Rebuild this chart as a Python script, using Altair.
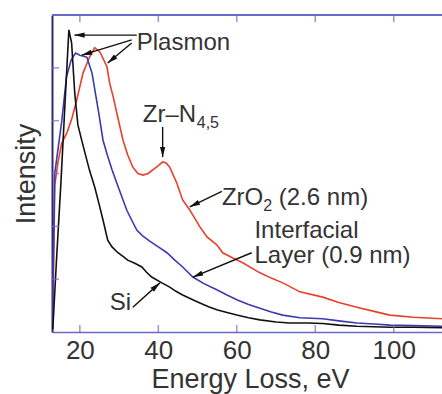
import math
import altair as alt
import pandas as pd

# ---------------- data ----------------
si_x = [13.1, 14.0, 15.2, 16.3, 17.2, 17.9, 18.7, 19.5, 20.4, 21.3, 22.5, 23.8, 24.9, 25.9,
        27.1, 28.2, 29.7, 31.0, 32.2, 34.0, 35.8, 37.0, 38.3, 40.9, 42.9, 44.5, 46.2, 48.5,
        50.6, 52.8, 54.9, 57.5, 60.0, 63.0, 65.9, 70.0, 73.5, 78.0, 81.9, 86.0, 90.6, 95.0,
        99.0, 105.0, 112.3]
si_y = [0.05, 1.3, 2.86, 4.45, 5.72, 5.47, 4.52, 3.92, 3.65, 3.39, 3.05, 2.74, 2.42, 2.12,
        1.74, 1.61, 1.50, 1.43, 1.36, 1.30, 1.23, 1.13, 1.04, 0.93, 0.85, 0.77, 0.70, 0.62,
        0.55, 0.48, 0.42, 0.37, 0.32, 0.27, 0.23, 0.19, 0.17, 0.17, 0.16, 0.13, 0.11, 0.10,
        0.09, 0.09, 0.08]

il_x = [13.0, 13.6, 14.5, 15.4, 16.6, 17.8, 18.9, 20.0, 21.0, 21.8, 23.1, 24.8, 25.9, 27.0,
        28.2, 29.5, 30.7, 32.0, 33.2, 34.5, 36.0, 37.8, 40.0, 42.2, 44.2, 46.2, 48.8, 51.5,
        54.9, 57.5, 60.0, 63.0, 65.9, 68.8, 71.7, 76.1, 81.9, 86.0, 90.6, 95.0, 99.0, 105.0,
        112.3]
il_y = [0.2, 3.0, 3.5, 4.0, 4.83, 5.15, 5.28, 5.24, 5.22, 5.20, 4.90, 4.15, 3.63, 3.35,
        3.07, 2.80, 2.56, 2.30, 2.12, 1.93, 1.82, 1.72, 1.61, 1.50, 1.36, 1.23, 1.04, 0.92,
        0.80, 0.70, 0.61, 0.52, 0.45, 0.38, 0.32, 0.27, 0.25, 0.21, 0.17, 0.15, 0.13, 0.12,
        0.11]

zr_x = [13.1, 13.6, 14.4, 15.4, 16.7, 18.0, 19.2, 20.8, 22.5, 23.8, 25.1, 26.9, 27.6, 28.5,
        29.4, 31.0, 32.2, 33.5, 34.8, 36.1, 37.4, 38.6, 40.0, 41.1, 42.0, 42.9, 44.7, 46.2,
        48.0, 50.6, 52.4, 54.9, 56.4, 59.0, 61.5, 65.9, 68.8, 71.7, 76.1, 81.9, 86.0, 90.6,
        95.0, 99.0, 105.0, 112.3]
zr_y = [0.2, 2.78, 3.20, 3.58, 3.77, 4.05, 4.39, 4.90, 5.21, 5.38, 5.30, 5.02, 4.71, 4.45,
        4.15, 3.63, 3.35, 3.12, 3.00, 2.97, 3.00, 3.07, 3.15, 3.22, 3.20, 3.12, 2.82, 2.50,
        2.31, 1.99, 1.80, 1.65, 1.50, 1.40, 1.31, 1.12, 1.02, 0.93, 0.76, 0.66, 0.56, 0.47,
        0.39, 0.32, 0.28, 0.25]

x_ticks = [20, 40, 60, 80, 100]
y_ticks = [1, 2, 3, 4, 5]

# annotation texts (data coordinates, left-aligned, alphabetic baseline)
ann_text = ["Plasmon", "Zr\u2013N", "4,5", "ZrO", "2", "(2.6 nm)", "Interfacial",
            "Layer (0.9 nm)", "Si"]
ann_x = [34.5, 36.05, 49.8, 56.2, 66.75, 70.7, 64.5, 64.5, 27.6]
ann_y = [5.34, 3.975, 3.86, 2.40, 2.29, 2.40, 1.78, 1.31, 0.42]
ann_fs = [24, 24, 16, 24, 16, 24, 24, 24, 24]

# arrows: tail -> head (data coordinates)
arr_x1 = [34.5, 33.2, 33.2, 41.1, 56.2, 63.8, 33.5]
arr_y1 = [5.62, 5.53, 5.47, 3.88, 2.66, 1.50, 0.47]
arr_x2 = [18.6, 20.5, 27.1, 41.1, 48.0, 48.8, 40.4]
arr_y2 = [5.62, 5.24, 5.09, 3.31, 2.37, 1.04, 0.93]

# ---------------- layout ----------------
X_MIN, X_MAX = 12.9, 112.3
Y_MIN, Y_MAX = 0, 6
W, H = 390, 317
F = "Liberation Sans"
AX = "#6a6ac6"
AXL = "#2c2c70"
TXT = "#333333"

xs = alt.Scale(domain=[X_MIN, X_MAX], nice=False, zero=False)
ys = alt.Scale(domain=[Y_MIN, Y_MAX], nice=False, zero=False)

xaxis = alt.Axis(values=x_ticks, ticks=False, grid=False, domainColor=AX, domainWidth=1.5,
                 labelFontSize=26, labelColor=TXT, labelFont=F, labelPadding=26,
                 labelBaseline="alphabetic", labelOverlap=False, labelFlush=False,
                 title="Energy Loss, eV", titleFont=F, titleFontSize=27, titleColor=TXT,
                 titleFontWeight="normal", titleBaseline="alphabetic", titleY=55,
                 titleX=198, titleAlign="center")
yaxis = alt.Axis(labels=False, ticks=False, grid=False, domainColor=AXL, domainWidth=2,
                 title="Intensity", titleFont=F, titleFontSize=27, titleColor=TXT,
                 titleFontWeight="normal", titleAngle=270, titleBaseline="alphabetic",
                 titleX=-18, titleY=H / 2, titleAlign="center")


def X(f):
    return alt.X(f, type="quantitative", scale=xs, axis=xaxis)


def Y(f):
    return alt.Y(f, type="quantitative", scale=ys, axis=yaxis)


def curve(xv, yv, color):
    df = pd.DataFrame({"e": xv, "v": yv})
    return alt.Chart(df).mark_line(color=color, strokeWidth=1.6, clip=True).encode(
        x=X("e"), y=Y("v"))


red = curve(zr_x, zr_y, "#e8402a")
blue = curve(il_x, il_y, "#3a3ab0")
black = curve(si_x, si_y, "#111111")

# ticks (inward)
tx = pd.DataFrame({"t": x_ticks})
ty = pd.DataFrame({"t": y_ticks})
tick_b = alt.Chart(tx).mark_tick(orient="vertical", size=7, thickness=1.5, color=AX).encode(
    x=X("t"), y=alt.value(H - 3.5))
tick_t = alt.Chart(tx).mark_tick(orient="vertical", size=7, thickness=1.5, color=AX).encode(
    x=X("t"), y=alt.value(3.5))
tick_l = alt.Chart(ty).mark_tick(orient="horizontal", size=7, thickness=1.5, color=AX).encode(
    y=Y("t"), x=alt.value(3.5))
top_rule = alt.Chart(tx).mark_rule(color=AX, strokeWidth=1.5).encode(
    x=alt.value(0), x2=alt.value(W), y=alt.value(0))

# arrows
sx = W / (X_MAX - X_MIN)
sy = H / (Y_MAX - Y_MIN)
angles, hx, hy = [], [], []
for a, b, c, d in zip(arr_x1, arr_y1, arr_x2, arr_y2):
    dx = (c - a) * sx
    dy = -(d - b) * sy
    ln = math.hypot(dx, dy)
    angles.append(math.degrees(math.atan2(dx, -dy)) % 360)
    # arrowhead centre 5 px back from the tip
    hx.append(c - (dx / ln) * 5 / sx)
    hy.append(d + (dy / ln) * 5 / sy)
arr = pd.DataFrame({"x1": arr_x1, "y1": arr_y1, "x2": arr_x2, "y2": arr_y2,
                    "hx": hx, "hy": hy, "ang": angles})
arrow_lines = alt.Chart(arr).mark_rule(color="#111111", strokeWidth=1.4).encode(
    x=X("x1"), y=Y("y1"), x2="x2", y2="y2")
arrow_heads = alt.Chart(arr).mark_point(
    shape="M0,-1L-0.5,1L0.5,1Z", filled=True, size=110, color="#111111", opacity=1,
    strokeWidth=0).encode(
    x=X("hx"), y=Y("hy"), angle=alt.Angle("ang:Q", scale=None))

ann = pd.DataFrame({"x": ann_x, "y": ann_y, "t": ann_text, "fs": ann_fs})
labels = alt.Chart(ann).mark_text(align="left", baseline="alphabetic", font=F,
                                  color=TXT).encode(
    x=X("x"), y=Y("y"), text="t:N", size=alt.Size("fs:Q", scale=None))

chart = alt.layer(red, blue, black, tick_b, tick_t, tick_l, top_rule, arrow_lines,
                  arrow_heads, labels).properties(
    width=W, height=H,
    padding={"left": 52, "top": 15, "right": 0, "bottom": 62},
    autosize=alt.AutoSizeParams(type="none"),
    background="white",
).configure_view(stroke=None)

chart.save("out.html", embed_options={"renderer": "svg", "actions": False})
